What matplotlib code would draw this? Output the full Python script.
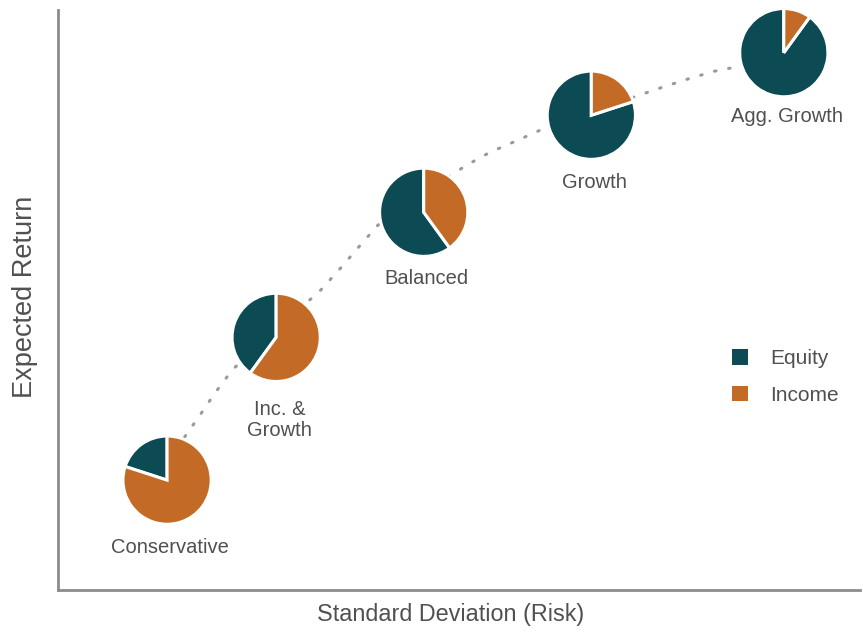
import matplotlib
matplotlib.use("Agg")
import matplotlib.pyplot as plt
from matplotlib.patches import Patch

# ---- data ----
portfolios = ["Conservative", "Inc. &\nGrowth", "Balanced", "Growth", "Agg. Growth"]
risk = [13.6, 27.2, 45.6, 66.5, 90.5]            # standard deviation (arbitrary units)
expected_return = [13.7, 31.5, 47.1, 59.2, 67.0]  # expected return (arbitrary units)
equity_pct = [20, 40, 60, 80, 90]
income_pct = [80, 60, 40, 20, 10]

# dotted frontier curve
curve_risk = [15.8, 17.7, 19.6, 21.7, 27.1, 32.4, 35.2, 37.7, 39.9, 45.5,
              51.0, 53.9, 57.6, 60.7, 66.3, 71.9, 75.1, 78.8, 81.9, 85.0]
curve_return = [19.1, 21.8, 24.6, 27.4, 32.7, 37.0, 40.1, 43.0, 45.5, 49.5,
                53.0, 54.6, 56.2, 57.6, 59.6, 61.5, 62.6, 63.8, 64.7, 65.3]

legend_labels = ["Equity", "Income"]
EQUITY = "#0c4a54"
INCOME = "#c26a26"
TEXT = "#505050"
SPINE = "#8c8c8c"

plt.rcParams['font.family'] = ['Liberation Sans', 'DejaVu Sans']

fig = plt.figure(figsize=(8.63, 6.33), dpi=100)
W, H = 863, 633
ax = fig.add_axes([58 / W, 43 / H, 802 / W, 580 / H])

ax.plot(curve_risk, curve_return, color="#9a9a9a", lw=2.2,
        linestyle=(0, (0.5, 4.2)), dash_capstyle="round", zorder=1)

radius = 5.5
for x, y, eq, inc in zip(risk, expected_return, equity_pct, income_pct):
    ax.pie([eq, inc], colors=[EQUITY, INCOME], startangle=90, counterclock=True,
           center=(x, y), radius=radius, frame=True,
           wedgeprops=dict(edgecolor="white", linewidth=2.2))

label_offsets = [-8.4, -10.3, -8.2, -8.4, -7.9]
for name, x, y, off in zip(portfolios, risk, expected_return, label_offsets):
    ax.text(x + 0.4, y + off, name, ha="center", va="center", fontsize=14.5,
            color=TEXT, linespacing=1.12)

ax.set_xlim(0, 100)
ax.set_ylim(0, 72.32)
ax.set_aspect("equal")
ax.set_xticks([])
ax.set_yticks([])
for s in ["top", "right"]:
    ax.spines[s].set_visible(False)
for s in ["left", "bottom"]:
    ax.spines[s].set_color(SPINE)
    ax.spines[s].set_linewidth(2)

ax.set_xlabel("Standard Deviation (Risk)", fontsize=16.8, color=TEXT)
ax.set_ylabel("Expected Return", fontsize=19.5, color=TEXT)
ax.xaxis.set_label_coords(0.489, -0.022)
ax.yaxis.set_label_coords(-0.025, 0.505)

handles = [Patch(facecolor=EQUITY, edgecolor="none"), Patch(facecolor=INCOME, edgecolor="none")]
leg = ax.legend(handles, legend_labels, loc="upper left", bbox_to_anchor=(0.840, 0.4155),
                frameon=False, fontsize=15, handlelength=0.77, handleheight=0.77,
                handletextpad=1.06, labelspacing=0.85, borderpad=0, borderaxespad=0)
for t in leg.get_texts():
    t.set_color(TEXT)

fig.savefig("out.png", dpi=100)
